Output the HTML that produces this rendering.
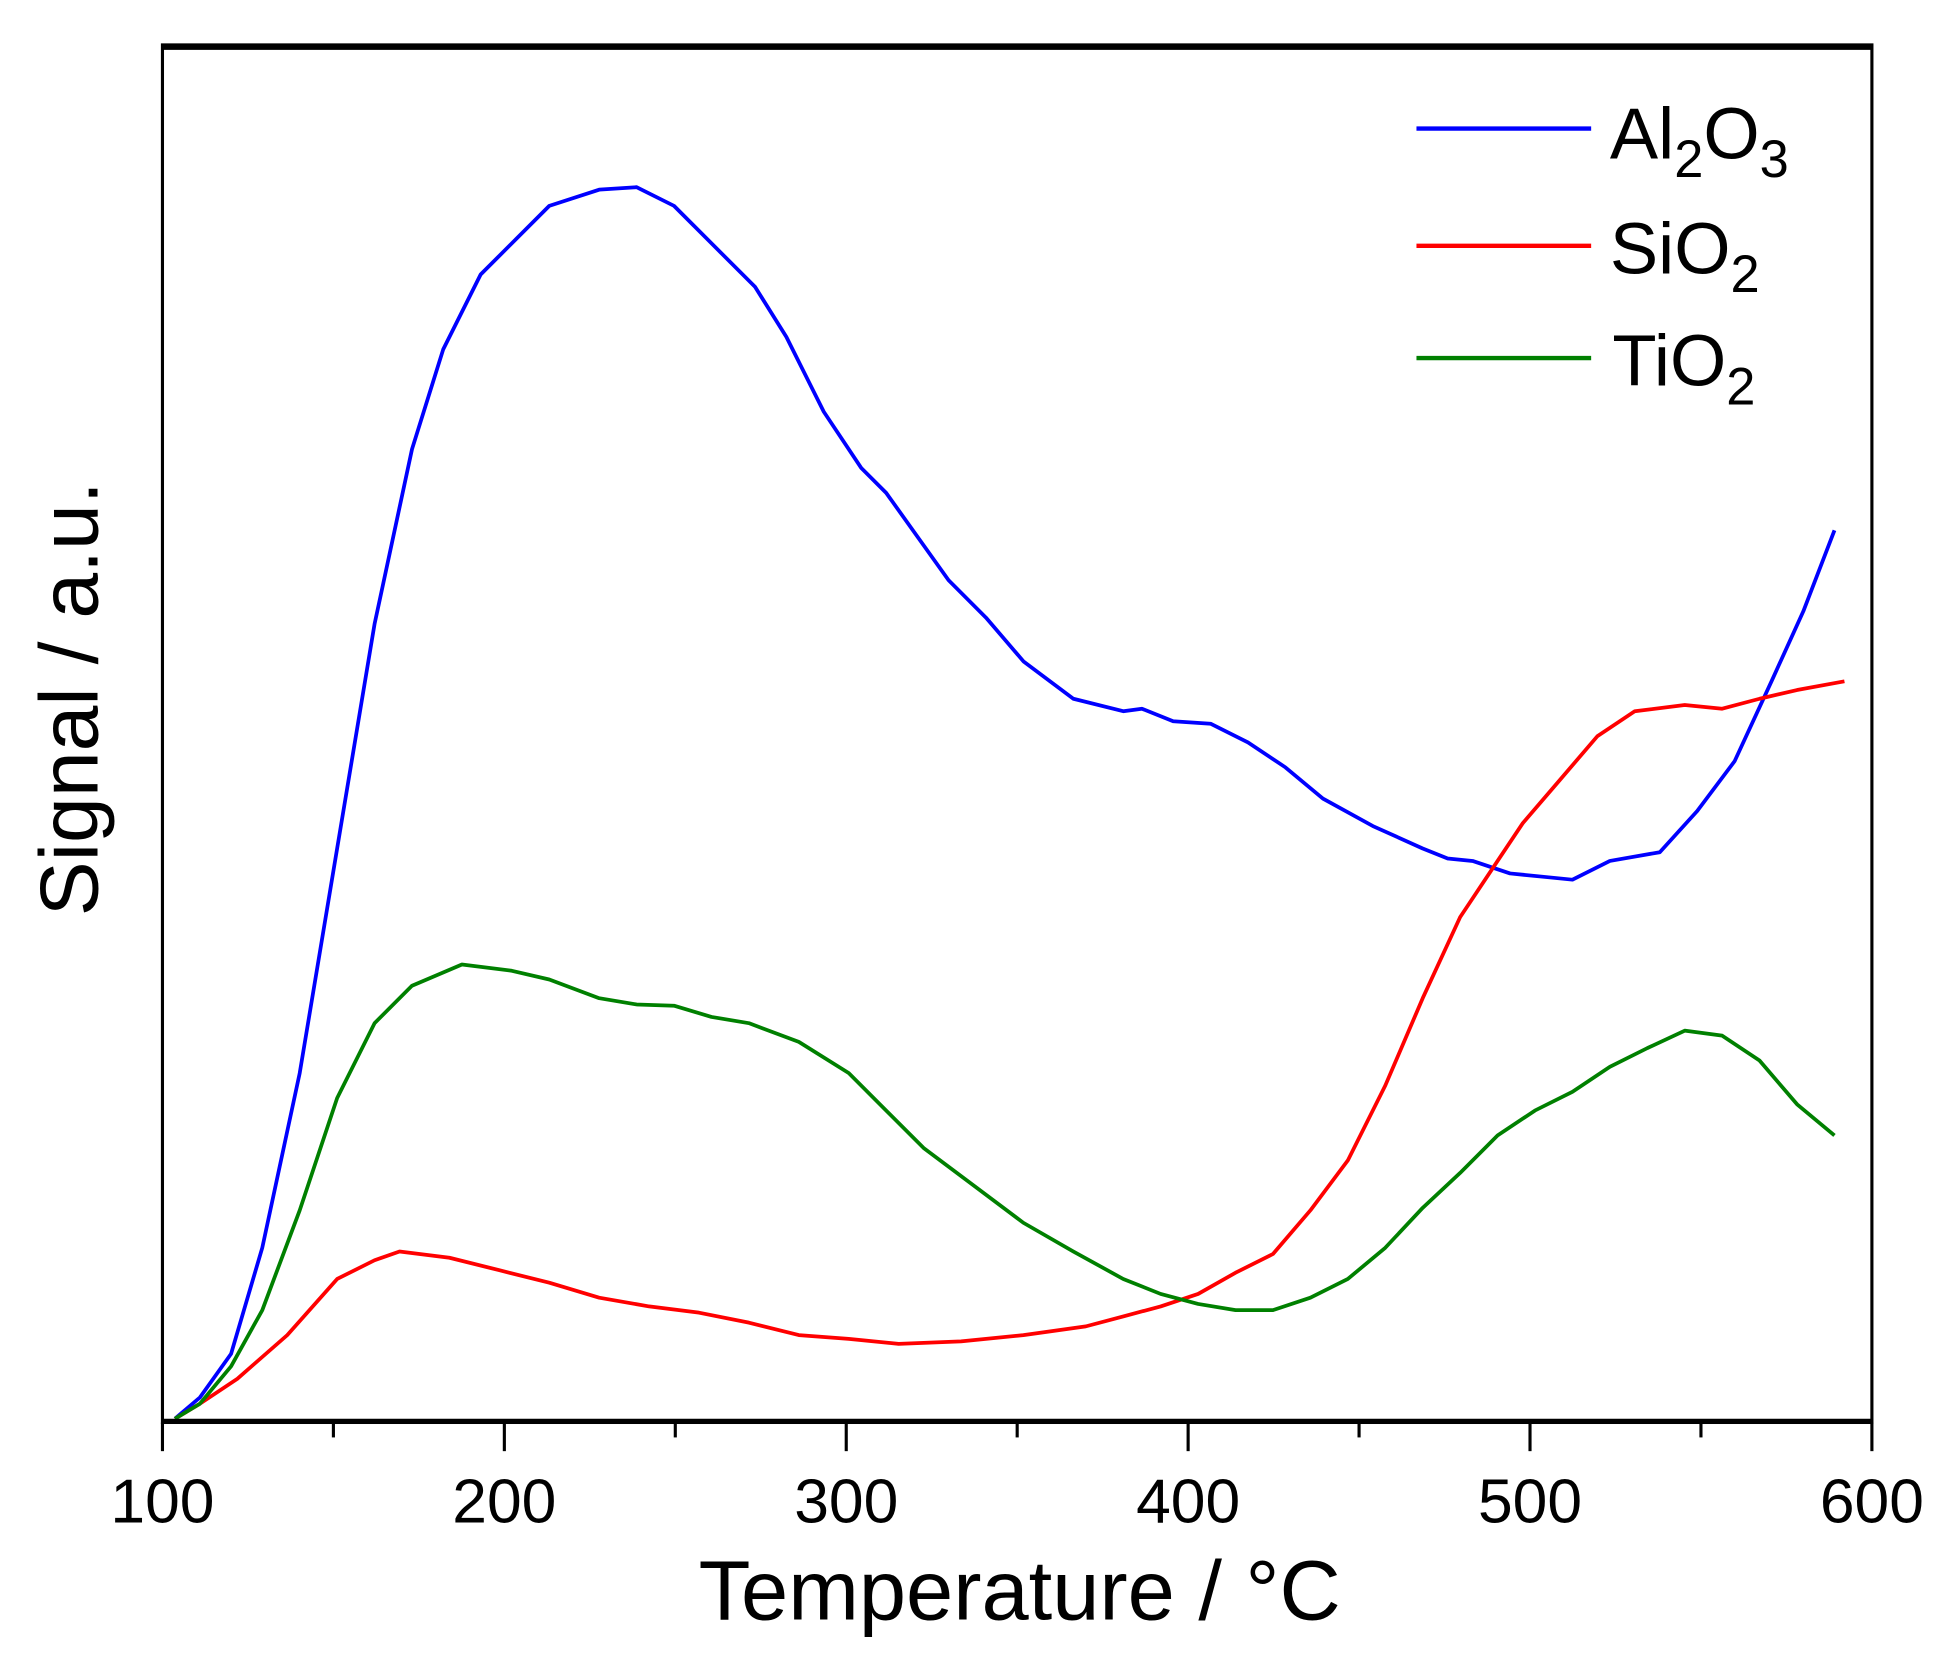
<!DOCTYPE html>
<html><head><meta charset="utf-8"><style>html,body{margin:0;padding:0;background:#fff}svg{display:block}</style></head>
<body>
<svg width="1957" height="1677" viewBox="0 0 1568 1344" xmlns="http://www.w3.org/2000/svg" font-family="'Liberation Sans', sans-serif">
<rect width="1568" height="1344" fill="#fff"/>
<g fill="none" stroke-linejoin="round" stroke-width="3">
<polyline stroke="#0000ff" points="140,1137 160,1120 185,1085 210,1000 240,860 270,680 300,500 330,360 355,280 385,220 410,195 440,165 480,152 510,150 540,165 570,195 605,230 630,270 660,330 690,375 710,395 735,430 760,465 790,495 820,530 860,560 900,570 915,568 940,578 970,580 1000,595 1030,615 1060,640 1100,662 1140,680 1160,688 1180,690 1210,700 1240,703 1260,705 1290,690 1330,683 1360,650 1390,610 1420,545 1445,490 1470,425"/>
<polyline stroke="#ff0000" points="140,1137 160,1125 190,1105 230,1070 270,1025 300,1010 320,1003 360,1008 400,1018 440,1028 480,1040 520,1047 560,1052 600,1060 640,1070 680,1073 720,1077 770,1075 820,1070 870,1063 900,1055 930,1047 960,1037 990,1020 1020,1005 1050,970 1080,930 1110,870 1140,800 1170,735 1200,690 1220,660 1250,625 1280,590 1310,570 1350,565 1380,568 1410,560 1440,553 1478,546"/>
<polyline stroke="#008000" points="140,1137 160,1125 185,1095 210,1050 240,970 270,880 300,820 330,790 370,773 410,778 440,785 480,800 510,805 540,806 570,815 600,820 640,835 680,860 710,890 740,920 780,950 820,980 860,1003 900,1025 930,1037 960,1045 990,1050 1020,1050 1050,1040 1080,1025 1110,1000 1140,968 1170,940 1200,910 1230,890 1260,875 1290,855 1320,840 1350,826 1380,830 1410,850 1440,885 1470,910"/>
</g>
<rect x="130" y="36" width="1370" height="1104" fill="none" stroke="#000" stroke-width="2.5"/>
<line x1="129" y1="38" x2="1501" y2="38" stroke="#000" stroke-width="4"/>
<line x1="129" y1="1139" x2="1501" y2="1139" stroke="#000" stroke-width="4"/>
<g stroke="#000" stroke-width="2.5">
<line x1="130" y1="1140" x2="130" y2="1163"/><line x1="404" y1="1140" x2="404" y2="1163"/><line x1="678" y1="1140" x2="678" y2="1163"/><line x1="952" y1="1140" x2="952" y2="1163"/><line x1="1226" y1="1140" x2="1226" y2="1163"/><line x1="1500" y1="1140" x2="1500" y2="1163"/>
<line x1="267" y1="1140" x2="267" y2="1152"/><line x1="541" y1="1140" x2="541" y2="1152"/><line x1="815" y1="1140" x2="815" y2="1152"/><line x1="1089" y1="1140" x2="1089" y2="1152"/><line x1="1363" y1="1140" x2="1363" y2="1152"/>
</g>
<g font-size="50" text-anchor="middle" fill="#000">
<text x="130" y="1220">100</text><text x="404" y="1220">200</text><text x="678" y="1220">300</text><text x="952" y="1220">400</text><text x="1226" y="1220">500</text><text x="1500" y="1220">600</text>
</g>
<text x="817" y="1298" font-size="68" text-anchor="middle">Temperature / °C</text>
<text transform="translate(78,560) rotate(-90)" font-size="66" text-anchor="middle">Signal / a.u.</text>
<g stroke-width="3.5">
<line x1="1135" y1="103" x2="1275" y2="103" stroke="#0000ff"/>
<line x1="1135" y1="197" x2="1275" y2="197" stroke="#ff0000"/>
<line x1="1135" y1="287" x2="1275" y2="287" stroke="#008000"/>
</g>
<g font-size="58" fill="#000">
<text x="1290" y="127">Al<tspan font-size="42" dy="15">2</tspan><tspan dy="-15">O</tspan><tspan font-size="42" dy="15">3</tspan></text>
<text x="1290" y="219">SiO<tspan font-size="42" dy="15">2</tspan></text>
<text x="1292" y="309">TiO<tspan font-size="42" dy="15">2</tspan></text>
</g>
</svg>
</body></html>
